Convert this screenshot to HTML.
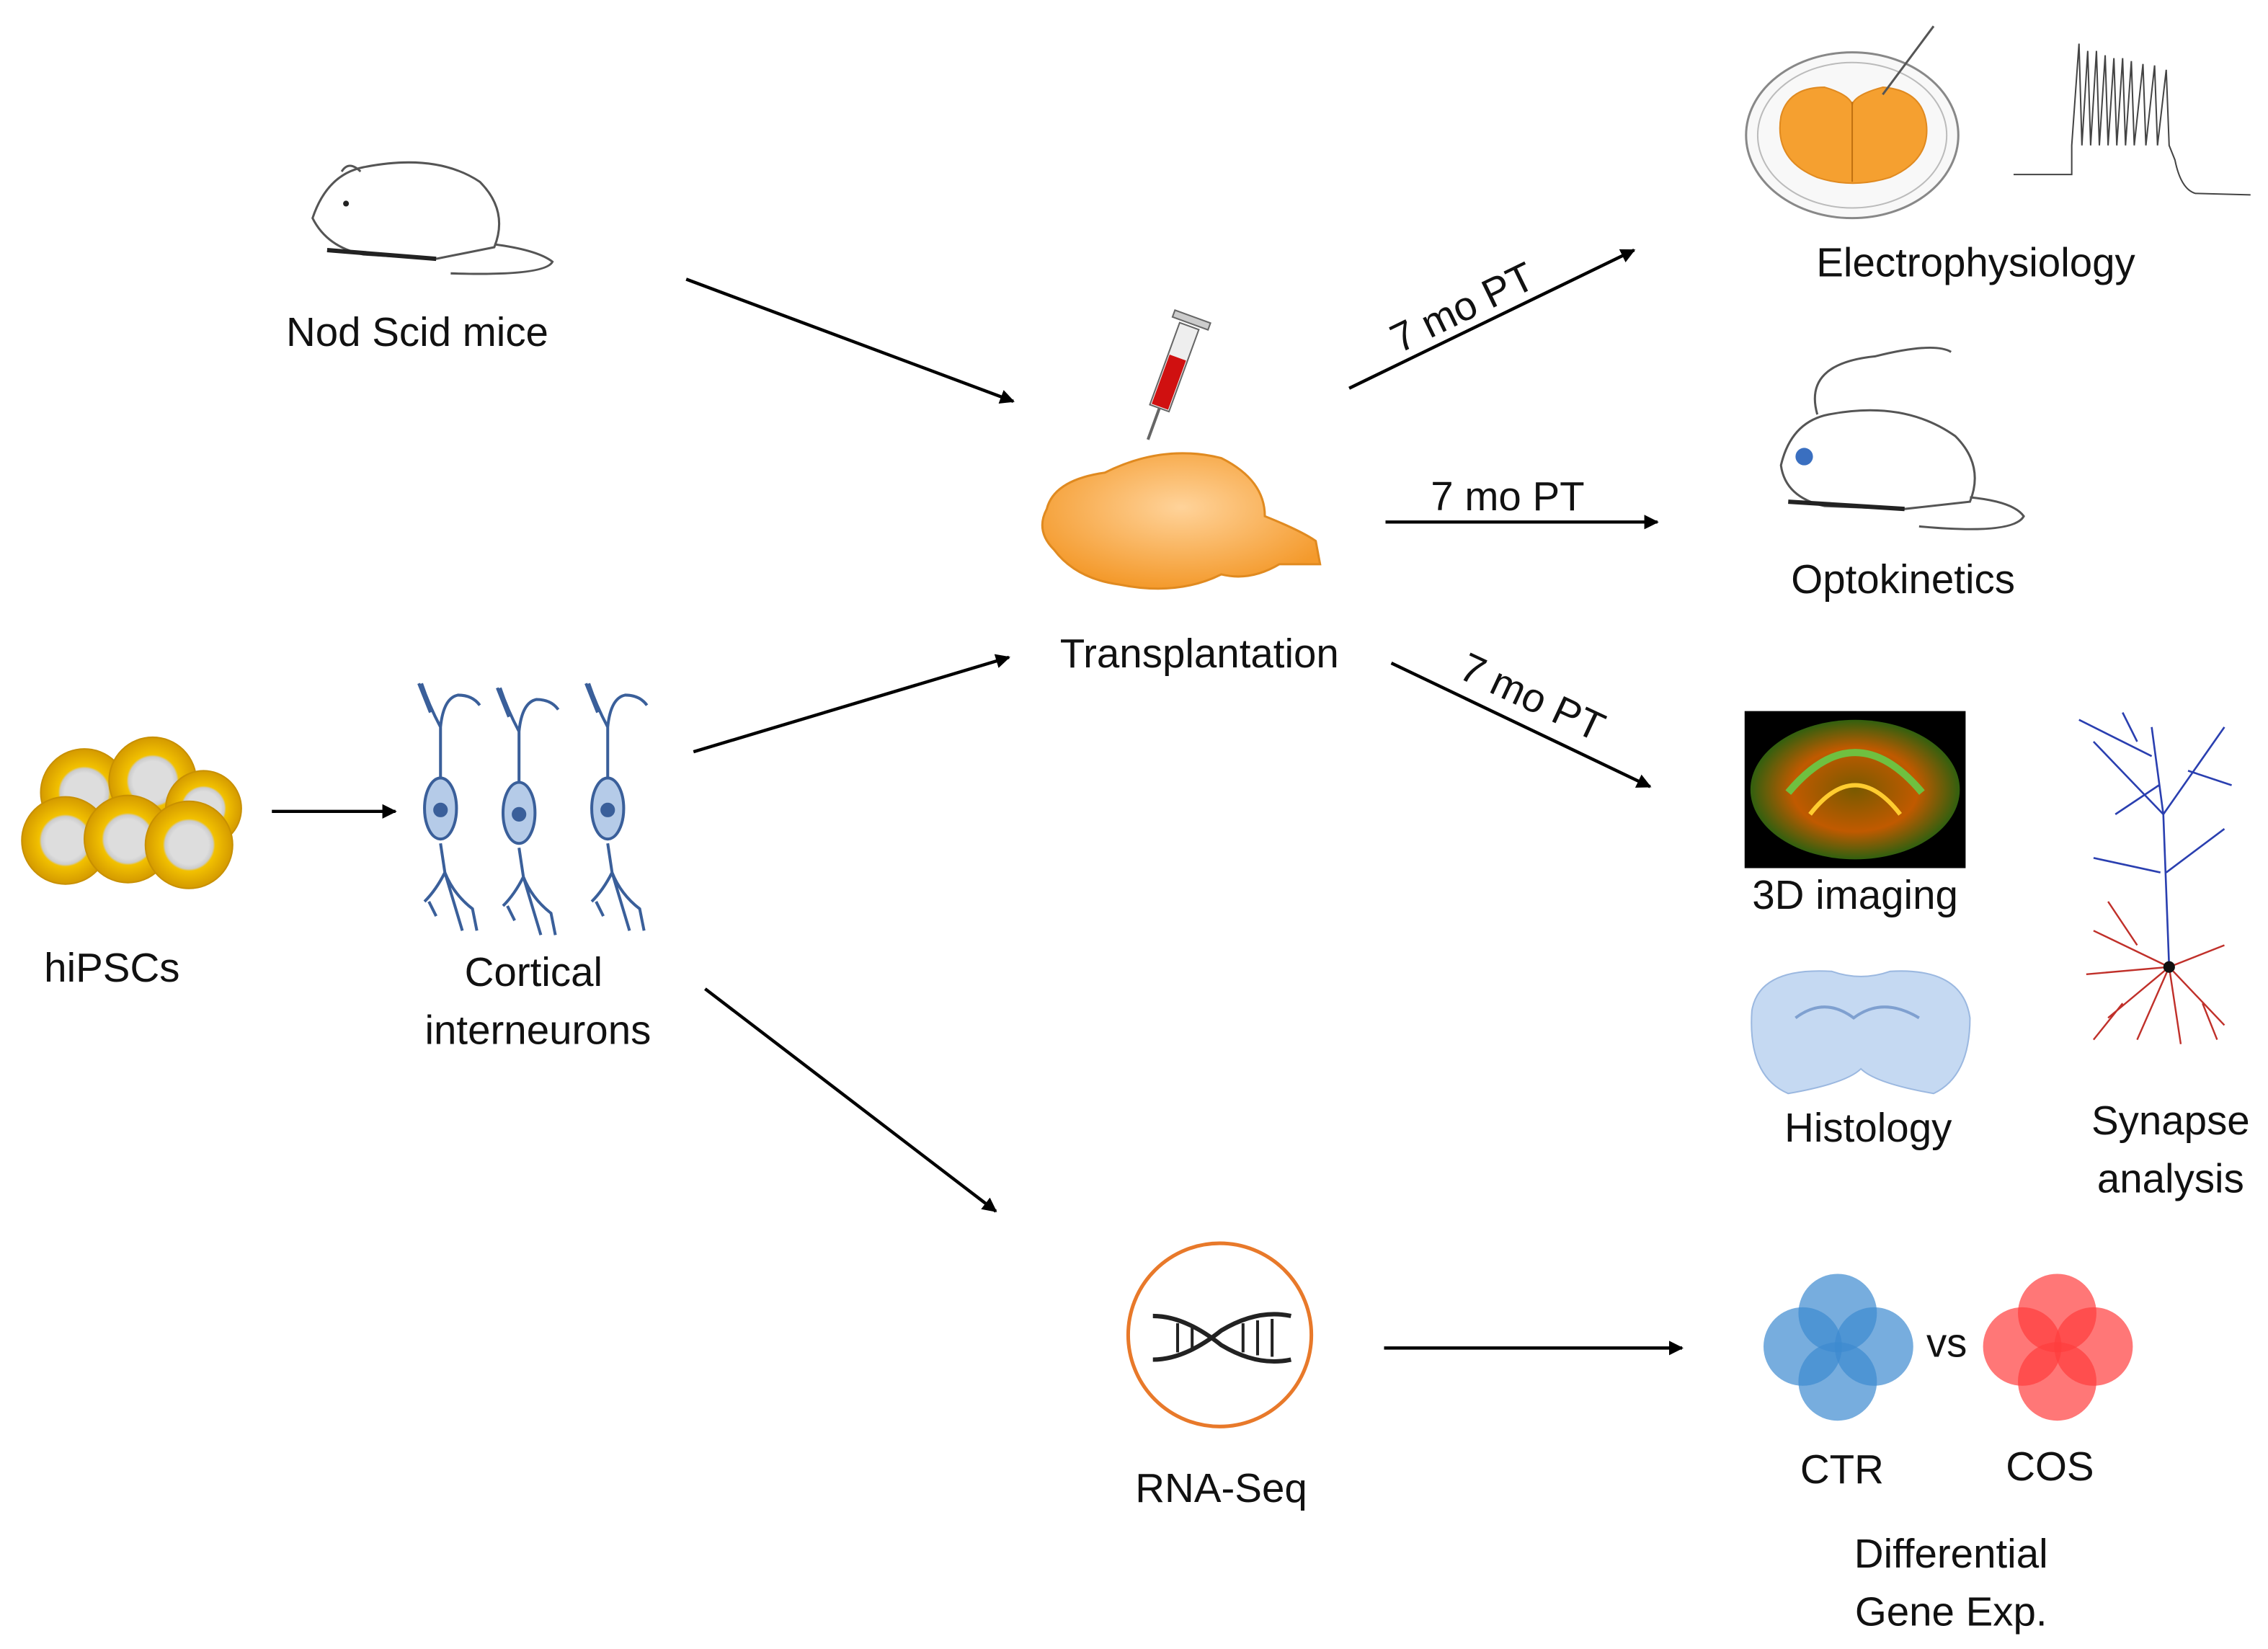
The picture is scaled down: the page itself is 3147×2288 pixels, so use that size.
<!DOCTYPE html>
<html><head><meta charset="utf-8"><style>
html,body{margin:0;padding:0;background:#fff;}
svg{display:block;}
text{font-family:"Liberation Sans",sans-serif;font-size:28px;fill:#111;}
</style></head><body>
<svg width="3147" height="2288" viewBox="0 0 1560 1134" preserveAspectRatio="none" xmlns="http://www.w3.org/2000/svg">
<defs>
<marker id="ah" markerWidth="10" markerHeight="10" refX="9" refY="5" orient="auto" markerUnits="userSpaceOnUse"><path d="M0,0 L10,5 L0,10 z" fill="#000"/></marker>
<radialGradient id="yel" cx="0.5" cy="0.5" r="0.5"><stop offset="0.45" stop-color="#ddd"/><stop offset="0.55" stop-color="#ccc"/><stop offset="0.6" stop-color="#f2c100"/><stop offset="1" stop-color="#d49a00"/></radialGradient>
<radialGradient id="org" cx="0.5" cy="0.4" r="0.6"><stop offset="0" stop-color="#ffd39a"/><stop offset="1" stop-color="#f49a2c"/></radialGradient>
<radialGradient id="img3d" cx="0.5" cy="0.5" r="0.6"><stop offset="0" stop-color="#7a5a00"/><stop offset="0.5" stop-color="#c05a00"/><stop offset="0.85" stop-color="#2a6010"/><stop offset="1" stop-color="#000"/></radialGradient>
</defs>

<!-- Mouse 1 -->
<g fill="none" stroke="#555" stroke-width="1.5">
<path d="M215,150 Q225,120 250,115 Q300,105 330,125 Q350,145 340,170 L300,178 L250,175 Q225,170 215,150 Z"/>
<path d="M235,118 Q240,110 248,118"/>
<path d="M340,168 Q370,172 380,180 Q375,190 310,188"/>
<path d="M225,172 L300,178" stroke="#222" stroke-width="3"/>
</g>
<circle cx="238" cy="140" r="2" fill="#222"/>
<text x="287" y="238" text-anchor="middle">Nod Scid mice</text>

<!-- Arrows -->
<g stroke="#000" stroke-width="2.2" marker-end="url(#ah)">
<line x1="472" y1="192" x2="697" y2="276"/>
<line x1="928" y1="267" x2="1124" y2="172"/>
<line x1="953" y1="359" x2="1140" y2="359"/>
<line x1="957" y1="456" x2="1135" y2="541"/>
<line x1="187" y1="558" x2="272" y2="558"/>
<line x1="477" y1="517" x2="694" y2="452"/>
<line x1="485" y1="680" x2="685" y2="833"/>
<line x1="952" y1="927" x2="1157" y2="927"/>
</g>
<text x="1010" y="220" text-anchor="middle" transform="rotate(-26 1010 220)">7 mo PT</text>
<text x="1037" y="351" text-anchor="middle">7 mo PT</text>
<text x="1050" y="488" text-anchor="middle" transform="rotate(25 1050 488)">7 mo PT</text>

<!-- Syringe + brain -->
<g transform="rotate(20 805 260)">
<rect x="798" y="222" width="14" height="60" fill="#eee" stroke="#666"/>
<rect x="799" y="245" width="12" height="36" fill="#d01010"/>
<rect x="792" y="215" width="26" height="5" fill="#ccc" stroke="#666"/>
<line x1="805" y1="282" x2="805" y2="305" stroke="#666" stroke-width="2"/>
</g>
<path d="M720,350 Q725,330 760,325 Q800,305 840,315 Q870,330 870,355 Q895,365 905,372 L908,388 L880,388 Q860,400 840,395 Q810,410 770,402 Q740,398 725,378 Q712,365 720,350 Z" fill="url(#org)" stroke="#e08a20" stroke-width="1.5"/>
<text x="825" y="459" text-anchor="middle">Transplantation</text>

<!-- Electrophysiology -->
<ellipse cx="1274" cy="93" rx="73" ry="57" fill="#f8f8f8" stroke="#888" stroke-width="1.5"/>
<ellipse cx="1274" cy="93" rx="65" ry="50" fill="none" stroke="#bbb"/>
<path d="M1225,80 Q1230,60 1255,60 Q1272,65 1274,72 Q1276,65 1295,60 Q1322,62 1325,85 Q1328,110 1300,122 Q1274,130 1250,122 Q1220,110 1225,80 Z" fill="#f5a030" stroke="#e08a20"/>
<line x1="1274" y1="70" x2="1274" y2="125" stroke="#c07010"/>
<line x1="1295" y1="65" x2="1330" y2="18" stroke="#555" stroke-width="1.5"/>
<path d="M1385,120 L1425,120 L1425,100 L1430,30 L1432,100 L1436,35 L1438,100 L1442,35 L1444,100 L1448,38 L1450,100 L1454,40 L1456,100 L1460,40 L1462,100 L1466,42 L1468,100 L1474,44 L1476,100 L1482,45 L1484,100 L1490,48 L1492,100 L1496,110 Q1500,130 1510,133 L1548,134" fill="none" stroke="#444" stroke-width="1"/>
<text x="1359" y="190" text-anchor="middle">Electrophysiology</text>

<!-- Mouse 2 -->
<g fill="none" stroke="#555" stroke-width="1.5">
<path d="M1225,320 Q1232,290 1258,285 Q1310,275 1345,300 Q1365,320 1355,345 L1310,350 L1255,348 Q1228,342 1225,320 Z"/>
<path d="M1250,285 Q1240,250 1290,245 Q1330,235 1342,242"/>
<path d="M1355,342 Q1385,345 1392,355 Q1385,368 1320,362"/>
<path d="M1230,345 L1310,350" stroke="#222" stroke-width="3"/>
</g>
<circle cx="1241" cy="314" r="6" fill="#3a6fc0"/>
<text x="1309" y="408" text-anchor="middle">Optokinetics</text>

<!-- 3D imaging -->
<rect x="1200" y="489" width="152" height="108" fill="#000"/>
<ellipse cx="1276" cy="543" rx="72" ry="48" fill="url(#img3d)"/>
<path d="M1230,545 Q1276,490 1322,545" fill="none" stroke="#6fc040" stroke-width="5"/>
<path d="M1245,560 Q1276,520 1307,560" fill="none" stroke="#ffcc30" stroke-width="3"/>
<text x="1276" y="625" text-anchor="middle">3D imaging</text>

<!-- Histology -->
<path d="M1205,695 Q1210,665 1260,668 Q1280,675 1300,668 Q1350,665 1355,700 Q1355,740 1330,752 Q1290,745 1280,735 Q1270,745 1230,752 Q1202,740 1205,695 Z" fill="#c5d9f2" stroke="#9bb8e0"/>
<path d="M1235,700 Q1255,685 1275,700 Q1295,685 1320,700" fill="none" stroke="#7fa0d0" stroke-width="2"/>
<text x="1285" y="785" text-anchor="middle">Histology</text>

<!-- Synapse neuron -->
<g fill="none" stroke="#2a3fb0" stroke-width="1.3">
<path d="M1492,665 L1488,560 L1480,500 M1488,560 L1440,510 M1488,560 L1530,500 M1486,600 L1440,590 M1490,600 L1530,570 M1480,520 L1430,495 M1485,540 L1455,560 M1505,530 L1535,540 M1470,510 L1460,490"/>
</g>
<g fill="none" stroke="#c0302a" stroke-width="1.2">
<path d="M1492,665 L1450,700 M1492,665 L1470,715 M1492,665 L1500,718 M1492,665 L1530,705 M1492,665 L1440,640 M1492,665 L1530,650 M1492,665 L1435,670 M1460,690 L1440,715 M1515,690 L1525,715 M1470,650 L1450,620"/>
</g>
<circle cx="1492" cy="665" r="4" fill="#111"/>
<text x="1493" y="780" text-anchor="middle">Synapse</text>
<text x="1493" y="820" text-anchor="middle">analysis</text>

<!-- hiPSCs -->
<g stroke="#c89000" stroke-width="1">
<circle cx="58" cy="545" r="30" fill="url(#yel)"/>
<circle cx="105" cy="537" r="30" fill="url(#yel)"/>
<circle cx="140" cy="556" r="26" fill="url(#yel)"/>
<circle cx="45" cy="578" r="30" fill="url(#yel)"/>
<circle cx="88" cy="577" r="30" fill="url(#yel)"/>
<circle cx="130" cy="581" r="30" fill="url(#yel)"/>
</g>
<text x="77" y="675" text-anchor="middle">hiPSCs</text>

<!-- Interneurons -->
<g fill="none" stroke="#3a5f9a" stroke-width="2">
<g id="nr">
<path d="M303,535 L303,500 M303,500 Q295,485 290,470 M303,500 Q305,480 315,478 Q325,478 330,485 M296,490 L288,470 M303,580 L306,600 Q312,615 325,625 L328,640 M306,600 Q300,612 292,620 M306,600 Q315,630 318,640 M295,620 L300,630"/>
<ellipse cx="303" cy="556" rx="11" ry="21" fill="#b5cbe8"/>
<circle cx="303" cy="557" r="4" fill="#3a5f9a"/>
</g>
<use href="#nr" transform="translate(54,3)"/>
<use href="#nr" transform="translate(115,0)"/>
</g>
<text x="367" y="678" text-anchor="middle">Cortical</text>
<text x="370" y="718" text-anchor="middle">interneurons</text>

<!-- RNA-Seq -->
<circle cx="839" cy="918" r="63" fill="#fff" stroke="#e8792a" stroke-width="2.5"/>
<path d="M793,905 Q815,905 840,925 Q865,940 888,935 M793,935 Q815,935 840,915 Q865,900 888,905" fill="none" stroke="#222" stroke-width="3"/>
<g stroke="#222" stroke-width="2"><line x1="810" y1="910" x2="810" y2="930"/><line x1="820" y1="912" x2="820" y2="928"/><line x1="855" y1="910" x2="855" y2="930"/><line x1="865" y1="908" x2="865" y2="932"/><line x1="875" y1="907" x2="875" y2="933"/></g>
<text x="840" y="1033" text-anchor="middle">RNA-Seq</text>

<!-- CTR / COS -->
<g fill="#3d8ad0" fill-opacity="0.7">
<circle cx="1264" cy="903" r="27"/><circle cx="1264" cy="950" r="27"/><circle cx="1240" cy="926" r="27"/><circle cx="1289" cy="926" r="27"/>
</g>
<g fill="#ff3d3d" fill-opacity="0.7">
<circle cx="1415" cy="903" r="27"/><circle cx="1415" cy="950" r="27"/><circle cx="1391" cy="926" r="27"/><circle cx="1440" cy="926" r="27"/>
</g>
<text x="1339" y="933" text-anchor="middle">vs</text>
<text x="1267" y="1020" text-anchor="middle">CTR</text>
<text x="1410" y="1018" text-anchor="middle">COS</text>
<text x="1342" y="1078" text-anchor="middle">Differential</text>
<text x="1342" y="1118" text-anchor="middle">Gene Exp.</text>
</svg>
</body></html>
